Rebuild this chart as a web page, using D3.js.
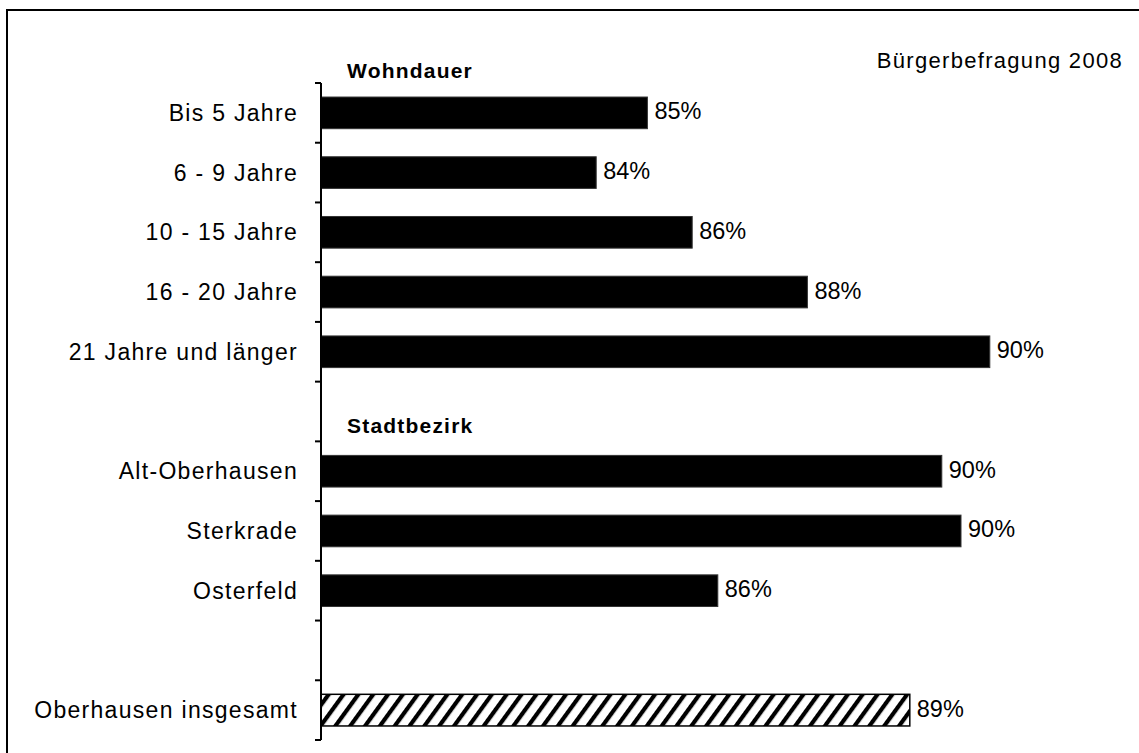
<!DOCTYPE html>
<html>
<head>
<meta charset="utf-8">
<script src="https://cdn.jsdelivr.net/npm/d3@7"></script>
<style>
  body { margin: 0; background: #fff; }
  svg { display: block; font-family: "Liberation Sans", Arial, sans-serif; }
</style>
</head>
<body>
<svg id="chart" width="1139" height="753"></svg>
<script>
// slots on the category axis (gap slots stay empty)
const categories = ["Bis 5 Jahre", "6 - 9 Jahre", "10 - 15 Jahre", "16 - 20 Jahre", "21 Jahre und länger",
  "gap1", "Alt-Oberhausen", "Sterkrade", "Osterfeld", "gap2", "Oberhausen insgesamt"];
const values = [85.1, 84.3, 85.8, 87.6, 90.45, null, 89.7, 90.0, 86.2, null, 89.2];
const valueLabels = ["85%", "84%", "86%", "88%", "90%", null, "90%", "90%", "86%", null, "89%"];
const hatched = ["Oberhausen insgesamt"];
const groupTitles = ["Wohndauer", "Stadtbezirk"];
const groupStarts = ["Bis 5 Jahre", "Alt-Oberhausen"];
const sourceNote = "Bürgerbefragung 2008";

const svg = d3.select("#chart");

// outer frame, right and bottom run off the picture
svg.append("rect")
  .attr("x", 7).attr("y", 10)
  .attr("width", 1200).attr("height", 800)
  .attr("fill", "none").attr("stroke", "#000").attr("stroke-width", 2);

const defs = svg.append("defs");
const pat = defs.append("pattern")
  .attr("id", "hatch")
  .attr("patternUnits", "userSpaceOnUse")
  .attr("width", 12).attr("height", 12)
  .attr("patternTransform", "rotate(36)");
pat.append("rect").attr("width", 12).attr("height", 12).attr("fill", "#fff");
pat.append("rect").attr("width", 4.2).attr("height", 12).attr("fill", "#000");

const x = d3.scaleLinear().domain([80, 92]).range([321, 1089]);
const y = d3.scaleBand()
  .domain(categories)
  .range([83, 740])
  .paddingInner(0.47)
  .paddingOuter(0.235);

const rows = categories.map((c, i) => ({ cat: c, v: values[i], label: valueLabels[i] }))
  .filter(d => d.v != null);

// bars
svg.append("g").selectAll("rect")
  .data(rows)
  .enter()
  .append("rect")
  .attr("x", x(80))
  .attr("y", d => y(d.cat))
  .attr("width", d => x(d.v) - x(80))
  .attr("height", y.bandwidth())
  .attr("fill", d => hatched.includes(d.cat) ? "url(#hatch)" : "#000")
  .attr("stroke", d => hatched.includes(d.cat) ? "#000" : "#333")
  .attr("stroke-width", d => hatched.includes(d.cat) ? 1.5 : 1);

// value labels
svg.append("g").selectAll("text")
  .data(rows)
  .enter()
  .append("text")
  .attr("x", d => x(d.v) + 7)
  .attr("y", d => y(d.cat) + y.bandwidth() / 2 + 6.5)
  .attr("font-size", 23.5)
  .attr("fill", "#000")
  .text(d => d.label);

// category axis: labels centred on bars, ticks between categories
const axis = d3.axisLeft(y)
  .tickSize(0)
  .tickPadding(23)
  .tickFormat(d => d.startsWith("gap") ? "" : d);

const gAxis = svg.append("g")
  .attr("transform", `translate(${x(80)},0)`)
  .call(axis);
gAxis.select(".domain").remove();
gAxis.selectAll("text")
  .attr("font-size", 23)
  .attr("letter-spacing", 1.3)
  .attr("fill", "#000")
  .attr("font-family", null)
  .attr("dy", "0.35em");

const step = y.step();
const boundaries = categories.map(c => y(c) - step * y.paddingInner() / 2)
  .concat([y.range()[1]]);

svg.append("line")
  .attr("x1", x(80)).attr("x2", x(80))
  .attr("y1", y.range()[0]).attr("y2", y.range()[1])
  .attr("stroke", "#000").attr("stroke-width", 2);

svg.append("g").selectAll("line")
  .data(boundaries)
  .enter()
  .append("line")
  .attr("x1", x(80) - 6).attr("x2", x(80))
  .attr("y1", d => d).attr("y2", d => d)
  .attr("stroke", "#000").attr("stroke-width", 2);

// group headings
svg.append("g").selectAll("text")
  .data(groupTitles)
  .enter()
  .append("text")
  .attr("x", 347)
  .attr("y", (d, i) => y(groupStarts[i]) - step * y.paddingInner() / 2 - (i === 0 ? 5 : 8))
  .attr("font-size", 21)
  .attr("font-weight", "bold")
  .attr("letter-spacing", 1.2)
  .text(d => d);

svg.append("text")
  .attr("x", 1123)
  .attr("y", 68)
  .attr("text-anchor", "end")
  .attr("font-size", 22)
  .attr("letter-spacing", 1.3)
  .text(sourceNote);
</script>
</body>
</html>
